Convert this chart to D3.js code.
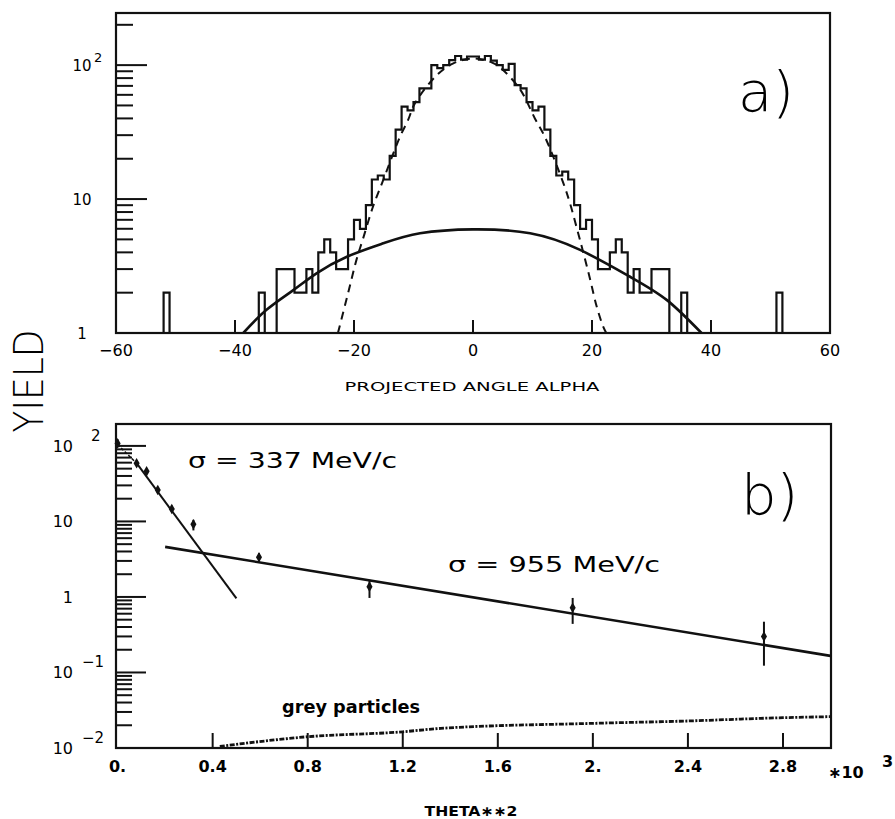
<!DOCTYPE html>
<html>
<head>
<meta charset="utf-8">
<script src="https://cdn.jsdelivr.net/npm/d3@7"></script>
<style>
body { margin: 0; background: #fff; }
svg { display: block; }
</style>
</head>
<body>
<div id="chart"></div>
<script>
// ---- panel a) : projected angle alpha ----
var binLo    = [-52, -36, -35, -33, -30, -28, -27, -26, -25, -24, -23, -21, -20, -19, -18, -17, -16, -15, -14, -13, -12, -11, -10, -9, -8, -7, -6, -5, -4, -3, -2, -1, 0, 1, 2, 3, 4, 5, 6, 7, 8, 9, 10, 11, 12, 13, 14, 15, 16, 17, 18, 19, 20, 21, 23, 24, 25, 26, 27, 28, 30, 33, 35, 51];
var binHi    = [-51, -35, -33, -30, -28, -27, -26, -25, -24, -23, -21, -20, -19, -18, -17, -16, -15, -14, -13, -12, -11, -10, -9, -8, -7, -6, -5, -4, -3, -2, -1, 0, 1, 2, 3, 4, 5, 6, 7, 8, 9, 10, 11, 12, 13, 14, 15, 16, 17, 18, 19, 20, 21, 23, 24, 25, 26, 27, 28, 30, 33, 35, 36, 52];
var binCount = [2, 2, 1, 3, 2, 3, 2, 4, 5, 4, 3, 5, 7, 6, 9, 14, 15, 14, 21, 33, 49, 46, 53, 67, 67, 100, 95, 100, 109, 117, 110, 116, 116, 110, 117, 108, 100, 92, 102, 71, 67, 53, 46, 49, 33, 21, 15, 16, 14, 9, 6, 7, 5, 3, 4, 5, 4, 2, 3, 2, 3, 1, 2, 2];

// narrow fit (dashed)
var narrowX = [-22.7, -21.0, -19.6, -18.4, -16.8, -15.3, -12.3, -10.9, -9.75, -6.1, -3.3, 0, 3.3, 4.8, 7.9, 10.4, 12.1, 15.2, 16.3, 17.7, 18.5, 19.7, 20.8, 21.9, 22.4];
var narrowY = [1.0, 1.98, 3.5, 5.2, 8.8, 13.1, 29, 39, 52, 84, 103, 112, 104, 94, 66, 40, 29, 13.1, 9.3, 5.5, 4.05, 2.5, 1.57, 1.11, 1.0];

// broad fit (solid)
var broadX = [-38.6, -34.7, -30.2, -26.3, -21.2, -15.1, -8.9, 0, 9.6, 18.0, 26.4, 32.6, 38.4];
var broadY = [1.0, 1.49, 2.09, 2.79, 3.71, 4.67, 5.55, 5.94, 5.55, 4.17, 2.63, 1.76, 1.0];

var alphaTicks  = [-60, -40, -20, 0, 20, 40, 60];
var alphaLabels = ["\u221260", "\u221240", "\u221220", "0", "20", "40", "60"];
var yTicksA     = [1, 10, 100];
var yBaseA      = ["1", "10", "10"];
var yExpA       = ["", "", "2"];

// ---- panel b) : theta**2 ----
var thetaSq = [0.0, 0.08, 0.122, 0.169, 0.228, 0.319, 0.595, 1.06, 1.915, 2.72];
var yieldB  = [108, 59, 46, 26, 14.6, 9.2, 3.35, 1.37, 0.72, 0.30];
var errLo   = [96, 55, 43, 24, 13.3, 7.6, 2.95, 0.97, 0.44, 0.123];
var errHi   = [122, 64, 49, 28.5, 16.2, 10.5, 3.8, 1.68, 0.97, 0.47];

var steepX   = [0.08, 0.5];
var steepY   = [59, 0.96];
var steepExtX = [0.0, 0.08];
var steepExtY = [104, 59];
var shallowX = [0.2, 3.0];
var shallowY = [4.6, 0.166];
var greyX = [0.43, 0.8, 1.2, 1.36, 2.0, 2.4, 2.8, 3.0];
var greyY = [0.0105, 0.0141, 0.0164, 0.0182, 0.0212, 0.0228, 0.0252, 0.026];

var thetaTicks  = [0, 0.4, 0.8, 1.2, 1.6, 2.0, 2.4, 2.8];
var thetaLabels = ["0.", "0.4", "0.8", "1.2", "1.6", "2.", "2.4", "2.8"];
var yTicksB = [0.01, 0.1, 1, 10, 100];
var yBaseB  = ["10", "10", "1", "10", "10"];
var yExpB   = ["\u22122", "\u22121", "", "", "2"];

chart('#chart');

function chart(id) {
	var width = 895, height = 819;
	var font = "'DejaVu Sans', sans-serif";

	var svg = d3.select(id).append("svg")
		.attr("width", width)
		.attr("height", height);

	// ========== panel a ==========
	var xa = d3.scaleLinear().domain([-60, 60]).range([116, 830]);
	var ya = d3.scaleLog().domain([1, 245]).range([333, 13]);

	var ga = svg.append("g");
	ga.append("clipPath").attr("id", "clipA")
		.append("rect").attr("x", 116).attr("y", 13).attr("width", 714).attr("height", 320);

	// histogram outline
	var p = d3.path();
	var base = ya(1);
	var prevHi = null;
	for (var i = 0; i < binLo.length; i++) {
		var c = Math.max(binCount[i], 1);
		if (prevHi === null) {
			p.moveTo(xa(binLo[i]), base);
		} else if (binLo[i] !== prevHi) {
			p.lineTo(xa(prevHi), base);
			p.moveTo(xa(binLo[i]), base);
		}
		p.lineTo(xa(binLo[i]), ya(c));
		p.lineTo(xa(binHi[i]), ya(c));
		prevHi = binHi[i];
	}
	p.lineTo(xa(prevHi), base);

	ga.append("path")
		.attr("d", p.toString())
		.attr("fill", "none")
		.attr("stroke", "#111")
		.attr("stroke-width", 2.2);

	ga.append("path")
		.datum(d3.zip(narrowX, narrowY))
		.attr("d", d3.line()
			.x(function(d) { return xa(d[0]); })
			.y(function(d) { return ya(d[1]); })
			.curve(d3.curveCatmullRom))
		.attr("clip-path", "url(#clipA)")
		.attr("fill", "none")
		.attr("stroke", "#111")
		.attr("stroke-width", 2)
		.attr("stroke-dasharray", "8,6");

	ga.append("path")
		.datum(d3.zip(broadX, broadY))
		.attr("d", d3.line()
			.x(function(d) { return xa(d[0]); })
			.y(function(d) { return ya(d[1]); })
			.curve(d3.curveNatural))
		.attr("clip-path", "url(#clipA)")
		.attr("fill", "none")
		.attr("stroke", "#111")
		.attr("stroke-width", 2.6);

	// frame
	ga.append("rect")
		.attr("x", 116).attr("y", 13).attr("width", 714).attr("height", 320)
		.attr("fill", "none").attr("stroke", "#111").attr("stroke-width", 2.2);

	// y ticks (log)
	logTicks(ga, ya, 1, 245, 116, 31, 17);

	// x ticks
	ga.selectAll(".xt").data(alphaTicks.slice(1, -1)).enter().append("line")
		.attr("x1", function(d) { return xa(d); }).attr("x2", function(d) { return xa(d); })
		.attr("y1", 333).attr("y2", 320)
		.attr("stroke", "#111").attr("stroke-width", 2);

	ga.selectAll(".xl").data(alphaTicks).enter().append("text")
		.attr("x", function(d) { return xa(d); })
		.attr("y", 356)
		.attr("text-anchor", "middle")
		.style("font-family", font).style("font-size", "16px")
		.text(function(d, i) { return alphaLabels[i]; });

	yTicksA.forEach(function(v, i) {
		ga.append("text")
			.attr("x", 82).attr("y", ya(v) + 6)
			.attr("text-anchor", "middle")
			.style("font-family", font).style("font-size", "15px")
			.text(yBaseA[i]);
		if (yExpA[i]) {
			ga.append("text")
				.attr("x", 94).attr("y", ya(v) - 3)
				.style("font-family", font).style("font-size", "13px")
				.text(yExpA[i]);
		}
	});

	ga.append("text")
		.attr("x", 472).attr("y", 391)
		.attr("text-anchor", "middle")
		.attr("textLength", 255).attr("lengthAdjust", "spacingAndGlyphs")
		.style("font-family", font).style("font-size", "13px")
		.text("PROJECTED ANGLE ALPHA");

	ga.append("text")
		.attr("x", 738).attr("y", 111)
		.style("font-family", font)
		.style("font-weight", 200)
		.style("font-size", "56px")
		.text("a)");

	// ========== panel b ==========
	var xb = d3.scaleLinear().domain([0, 3]).range([117.6, 830.5]);
	var yb = d3.scaleLog().domain([0.01, 195]).range([748, 424]);

	var gb = svg.append("g");
	gb.append("clipPath").attr("id", "clipB")
		.append("rect").attr("x", 116).attr("y", 424).attr("width", 715).attr("height", 324);

	var lineB = d3.line()
		.x(function(d) { return xb(d[0]); })
		.y(function(d) { return yb(d[1]); });

	gb.append("path")
		.datum(d3.zip(steepX, steepY))
		.attr("d", lineB)
		.attr("fill", "none").attr("stroke", "#111").attr("stroke-width", 2);

	gb.append("path")
		.datum(d3.zip(steepExtX, steepExtY))
		.attr("d", lineB)
		.attr("fill", "none").attr("stroke", "#111").attr("stroke-width", 1.5)
		.attr("stroke-dasharray", "3,2");

	gb.append("path")
		.datum(d3.zip(shallowX, shallowY))
		.attr("d", lineB)
		.attr("fill", "none").attr("stroke", "#111").attr("stroke-width", 2.6);

	gb.append("path")
		.datum(d3.zip(greyX, greyY))
		.attr("d", d3.line()
			.x(function(d) { return xb(d[0]); })
			.y(function(d) { return yb(d[1]); })
			.curve(d3.curveMonotoneX))
		.attr("clip-path", "url(#clipB)")
		.attr("fill", "none").attr("stroke", "#111").attr("stroke-width", 2.8)
		.attr("stroke-dasharray", "5,1.5,2,1.5");

	// error bars and points
	gb.selectAll(".eb").data(thetaSq).enter().append("line")
		.attr("x1", function(d) { return xb(d); }).attr("x2", function(d) { return xb(d); })
		.attr("y1", function(d, i) { return yb(errHi[i]); })
		.attr("y2", function(d, i) { return yb(errLo[i]); })
		.attr("stroke", "#111").attr("stroke-width", 2);

	gb.selectAll(".pt").data(thetaSq).enter().append("path")
		.attr("transform", function(d, i) { return "translate(" + xb(d) + "," + yb(yieldB[i]) + ")"; })
		.attr("d", d3.symbol().type(d3.symbolDiamond).size(32))
		.attr("fill", "#111");

	// frame
	gb.append("rect")
		.attr("x", 116).attr("y", 424).attr("width", 715).attr("height", 324)
		.attr("fill", "none").attr("stroke", "#111").attr("stroke-width", 2.2);

	logTicks(gb, yb, 0.01, 195, 116, 30, 16);

	gb.selectAll(".xt").data(thetaTicks.slice(1)).enter().append("line")
		.attr("x1", function(d) { return xb(d); }).attr("x2", function(d) { return xb(d); })
		.attr("y1", 748).attr("y2", 733)
		.attr("stroke", "#111").attr("stroke-width", 2);

	gb.selectAll(".xl").data(thetaTicks).enter().append("text")
		.attr("x", function(d) { return xb(d); })
		.attr("y", 772)
		.attr("text-anchor", "middle")
		.style("font-family", font).style("font-size", "16px").style("font-weight", "bold")
		.text(function(d, i) { return thetaLabels[i]; });

	gb.append("text")
		.attr("x", 828).attr("y", 778)
		.style("font-family", font).style("font-size", "16px").style("font-weight", "bold")
		.text("\u221710");
	gb.append("text")
		.attr("x", 882).attr("y", 767)
		.style("font-family", font).style("font-size", "16px").style("font-weight", "bold")
		.text("3");

	yTicksB.forEach(function(v, i) {
		gb.append("text")
			.attr("x", 73).attr("y", yb(v) + 6)
			.attr("text-anchor", "end")
			.style("font-family", font).style("font-size", "16px")
			.text(yBaseB[i]);
		if (yExpB[i]) {
			gb.append("text")
				.attr("x", yExpB[i] === "2" ? 91 : 82).attr("y", yb(v) - 5)
				.style("font-family", font).style("font-size", "15px")
				.text(yExpB[i]);
		}
	});

	gb.append("text")
		.attr("x", 471).attr("y", 816)
		.attr("text-anchor", "middle")
		.attr("textLength", 93).attr("lengthAdjust", "spacingAndGlyphs")
		.style("font-family", font).style("font-size", "14px").style("font-weight", "bold")
		.text("THETA\u2217\u22172");

	gb.append("text")
		.attr("x", 188).attr("y", 468)
		.attr("textLength", 209).attr("lengthAdjust", "spacingAndGlyphs")
		.style("font-family", font).style("font-size", "22px")
		.text("\u03c3 = 337 MeV/c");

	gb.append("text")
		.attr("x", 448).attr("y", 572)
		.attr("textLength", 212).attr("lengthAdjust", "spacingAndGlyphs")
		.style("font-family", font).style("font-size", "22px")
		.text("\u03c3 = 955 MeV/c");

	gb.append("text")
		.attr("x", 282).attr("y", 713)
		.attr("textLength", 138).attr("lengthAdjust", "spacingAndGlyphs")
		.style("font-family", font).style("font-size", "18px").style("font-weight", "bold")
		.text("grey particles");

	gb.append("text")
		.attr("x", 741).attr("y", 514)
		.style("font-family", font)
		.style("font-weight", 200)
		.style("font-size", "56px")
		.text("b)");

	// shared y title
	svg.append("text")
		.attr("transform", "translate(43,381) rotate(-90)")
		.attr("text-anchor", "middle")
		.attr("textLength", 103).attr("lengthAdjust", "spacingAndGlyphs")
		.style("font-family", font)
		.style("font-weight", 200)
		.style("font-size", "41px")
		.text("YIELD");
}

function logTicks(g, y, lo, hi, x0, majorLen, minorLen) {
	var ticks = [];
	var d0 = Math.floor(Math.log10(lo)), d1 = Math.ceil(Math.log10(hi));
	for (var d = d0; d <= d1; d++) {
		for (var k = 1; k <= 9; k++) {
			var v = k * Math.pow(10, d);
			if (v > lo * 1.0001 && v <= hi) ticks.push({ v: v, major: k === 1 });
		}
	}
	g.selectAll(null).data(ticks).enter().append("line")
		.attr("x1", x0)
		.attr("x2", function(t) { return x0 + (t.major ? majorLen : minorLen); })
		.attr("y1", function(t) { return y(t.v); })
		.attr("y2", function(t) { return y(t.v); })
		.attr("stroke", "#111").attr("stroke-width", 2);
}
</script>
</body>
</html>
